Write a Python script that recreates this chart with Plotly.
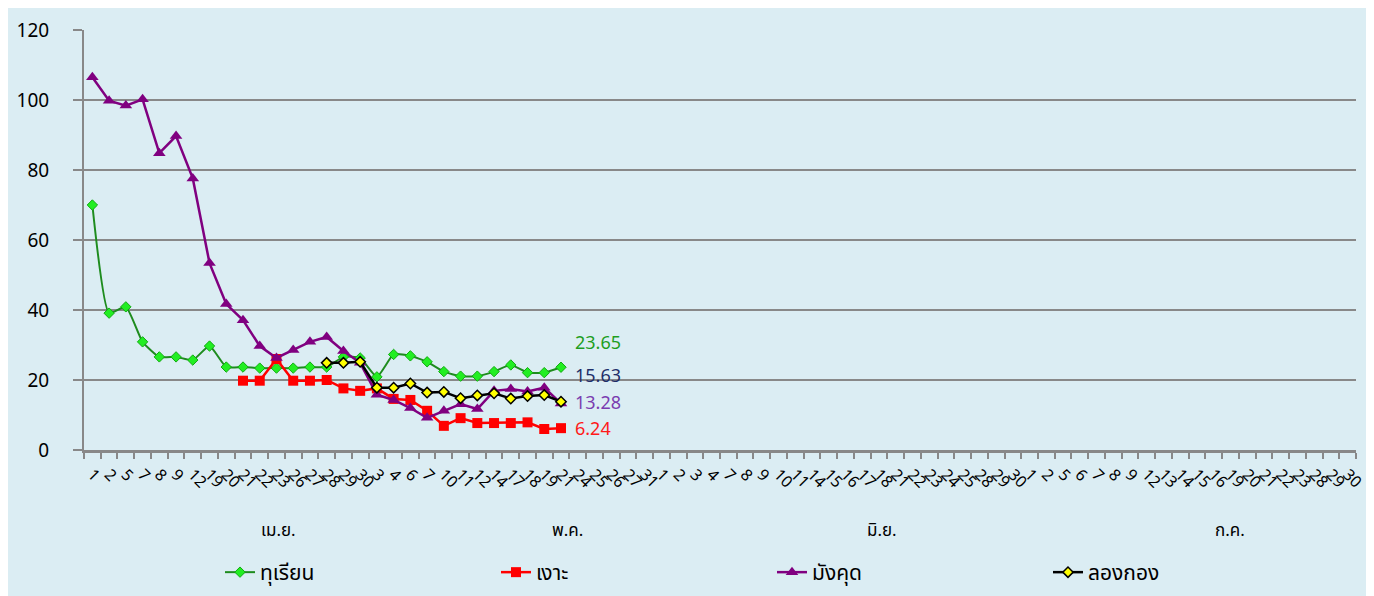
import plotly.graph_objects as go

# ---------------- data ----------------
april = [1, 2, 5, 7, 8, 9, 12, 19, 20, 21, 22, 23, 26, 27, 28, 29, 30]
may = [3, 4, 6, 7, 10, 11, 12, 14, 17, 18, 19, 21, 24, 25, 26, 27, 31]
june = [1, 2, 3, 4, 7, 8, 9, 10, 11, 14, 15, 16, 17, 18, 21, 22, 23, 24, 25, 28, 29, 30]
july = [1, 2, 5, 6, 7, 8, 9, 12, 13, 14, 15, 16, 19, 20, 21, 22, 23, 28, 29, 30]
day_labels = [str(d) for d in april + may + june + july]
month_names = ["เม.ย.", "พ.ค.", "มิ.ย.", "ก.ค."]

durian = [70, 39.1, 40.9, 30.9, 26.6, 26.6, 25.7, 29.7, 23.7, 23.7, 23.4, 23.4, 23.4, 23.7, 23.7,
          26.6, 26.3, 20.9, 27.3, 26.9, 25.2, 22.4, 21.1, 21.1, 22.4, 24.3, 22.1, 22.1, 23.65]
rambutan = [None] * 9 + [19.8, 19.8, 26.0, 19.8, 19.8, 20.0, 17.6, 16.9, 17.6, 14.6, 14.3, 11.2,
                         6.9, 9.1, 7.7, 7.7, 7.7, 7.9, 6.0, 6.24]
mangosteen = [106.5, 99.8, 98.4, 100.2, 84.8, 89.7, 77.6, 53.4, 41.7, 37.1, 29.7, 26.3, 28.6, 30.9,
              32.3, 28.3, 24.9, 15.8, 14.3, 12.0, 9.2, 11.2, 13.1, 11.7, 16.9, 17.4, 16.7, 17.8, 13.28]
longkong = [None] * 14 + [24.9, 24.9, 25.2, 17.8, 17.8, 19.0, 16.4, 16.6, 14.8, 15.6, 16.2, 14.7,
                          15.4, 15.7, 13.8]
end_labels = ["23.65", "15.63", "13.28", "6.24"]
end_label_y = [30.5, 21.0, 13.2, 6.0]

series_names = ["ทุเรียน", "เงาะ", "มังคุด", "ลองกอง"]

# ---------------- figure ----------------
FONT = "Noto Sans Thai, Noto Sans, DejaVu Sans, sans-serif"
BG = "#DBEDF3"
n = len(day_labels)
xs = list(range(n))

# page is offset by the 8px body margin; figure sized to fit the window
W, H = 1366, 588
L, T = 76, 22
PW, PH = 1272, 420

fig = go.Figure()
fig.add_trace(go.Scatter(
    x=xs[:len(durian)], y=durian, name=series_names[0], mode="lines+markers",
    line=dict(color="#1E8C1E", width=2, shape="spline", smoothing=0.5),
    marker=dict(symbol="diamond", size=8, color="#22EE22", line=dict(color="#11AA11", width=1))))
fig.add_trace(go.Scatter(
    x=xs[:len(rambutan)], y=rambutan, name=series_names[1], mode="lines+markers",
    line=dict(color="#FF0000", width=2.5),
    marker=dict(symbol="square", size=10, color="#FF0000")))
fig.add_trace(go.Scatter(
    x=xs[:len(mangosteen)], y=mangosteen, name=series_names[2], mode="lines+markers",
    line=dict(color="#800080", width=2.5),
    marker=dict(symbol="triangle-up", size=11, color="#800080")))
fig.add_trace(go.Scatter(
    x=xs[:len(longkong)], y=longkong, name=series_names[3], mode="lines+markers",
    line=dict(color="#000000", width=2.5),
    marker=dict(symbol="diamond", size=8, color="#FFFF00", line=dict(color="#000000", width=1.5))))

label_colors = ["#1E9E1E", "#1F2F6A", "#7A3CB0", "#FF1A1A"]
last_x = len(durian) - 1
for txt, yv, c in zip(end_labels, end_label_y, label_colors):
    fig.add_annotation(x=last_x, y=yv, xref="x", yref="y", text=txt, showarrow=False,
                       xanchor="left", xshift=12, font=dict(size=18, color=c, family=FONT))

# month labels
month_x = [11.1, 28.4, 47.2, 68.0]
for m, mx in zip(month_names, month_x):
    fig.add_annotation(x=mx, y=-81 / PH, xref="x", yref="paper", text=m, showarrow=False,
                       yanchor="middle", font=dict(size=17, color="#000000", family=FONT))

# background panel (white strip on the right as in the reference)
fig.add_shape(type="rect", xref="paper", yref="paper", x0=-L / PW, x1=(1368 - 8 - L) / PW,
              y0=-(H - T - PH) / PH, y1=(PH + T) / PH,
              fillcolor=BG, line=dict(width=0), layer="below")

fig.update_layout(
    width=W, height=H,
    margin=dict(l=L, r=W - L - PW, t=T, b=H - T - PH, autoexpand=False),
    paper_bgcolor="#FFFFFF", plot_bgcolor="rgba(0,0,0,0)",
    font=dict(family=FONT, color="#000000"),
    showlegend=True,
    legend=dict(orientation="h", x=(220 - 84) / PW, y=-102 / PH, xanchor="left", yanchor="top",
                entrywidth=231, entrywidthmode="pixels", bgcolor="rgba(0,0,0,0)",
                font=dict(size=21, family=FONT, color="#000000")),
)
fig.update_xaxes(
    range=[-0.5, n - 0.5], tickmode="array", tickvals=xs, ticktext=day_labels,
    tickangle=45, ticks="", showgrid=False, zeroline=False,
    showline=True, linecolor="#888888", linewidth=3,
    tickfont=dict(size=16, family=FONT, color="#000000"), ticklabelstandoff=6,
    minor=dict(tickmode="linear", tick0=-0.5, dtick=1, ticks="outside", ticklen=6,
               tickcolor="#888888", tickwidth=1.5, showgrid=False),
)
fig.update_yaxes(
    range=[0, 120], tickmode="linear", tick0=0, dtick=20,
    showgrid=True, gridcolor="#888888", gridwidth=2, zeroline=False,
    showline=True, linecolor="#888888", linewidth=2,
    ticks="outside", ticklen=9, tickcolor="#888888", tickwidth=1.5,
    tickfont=dict(size=19, family=FONT, color="#000000"), ticklabelstandoff=20,
)

fig.write_html("out.html")
